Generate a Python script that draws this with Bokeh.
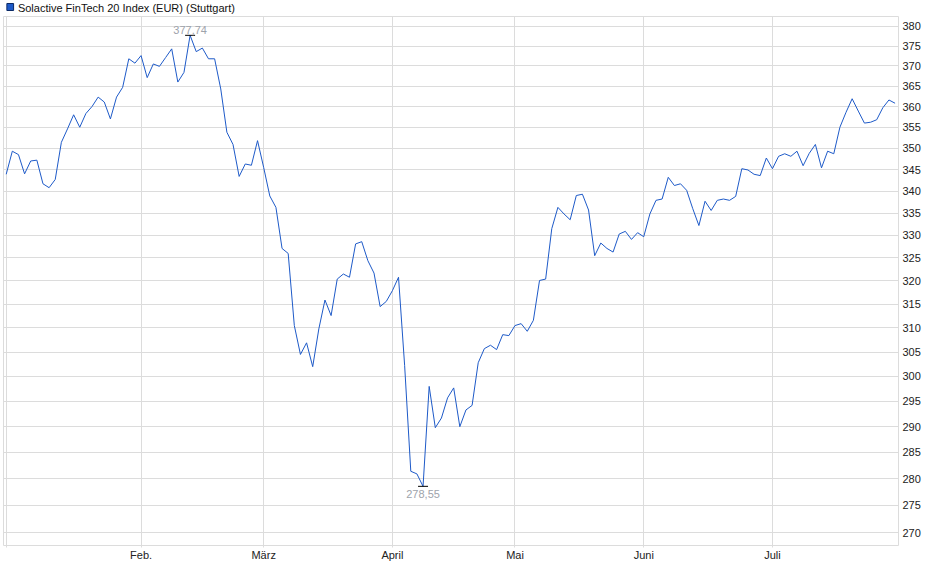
import numpy as np
from bokeh.plotting import figure
from bokeh.layouts import column
from bokeh.models import Range1d, FixedTicker, BasicTickFormatter
from bokeh.embed import file_html
from bokeh.resources import INLINE
from bokeh.core.properties import value

# ---------------- data ----------------
legend_label = "Solactive FinTech 20 Index (EUR) (Stuttgart)"
month_labels = ["", "Feb.", "März", "April", "Mai", "Juni", "Juli"]
month_start_index = [0, 22, 42, 63, 83, 104, 125]   # trading-day index of each month start
y_ticks = [270, 275, 280, 285, 290, 295, 300, 305, 310, 315, 320, 325, 330,
           335, 340, 345, 350, 355, 360, 365, 370, 375, 380]

close = [
    343.9, 349.3, 348.5, 344.0, 347.0, 347.2, 341.7, 340.8, 342.7, 351.4,
    354.6, 358.0, 355.0, 358.3, 360.0, 362.3, 361.1, 357.0, 362.3, 364.7,
    371.8, 370.7, 372.6, 367.1, 370.5, 369.9, 372.1, 374.3, 366.0, 368.4,
    377.74, 373.6, 374.5, 371.8, 371.8, 364.3, 353.8, 350.9, 343.4, 346.3,
    346.0, 351.8, 345.5, 338.9, 336.3, 327.1, 326.0, 310.5, 304.5, 306.9,
    302.0, 309.8, 315.9, 312.6, 320.4, 321.5, 320.8, 328.1, 328.6, 324.4,
    321.7, 314.5, 315.6, 317.9, 320.8, 302.2, 281.4, 280.9, 278.55, 298.0,
    289.8, 291.7, 295.7, 297.7, 290.0, 293.3, 294.2, 302.8, 305.7, 306.4,
    305.5, 308.6, 308.4, 310.5, 310.9, 309.3, 311.6, 320.1, 320.4, 331.5,
    336.3, 334.8, 333.5, 339.0, 339.3, 335.7, 325.5, 328.3, 327.1, 326.3,
    330.3, 330.9, 329.1, 330.6, 329.7, 334.8, 337.9, 338.2, 343.2, 341.3,
    341.7, 340.2, 336.0, 332.2, 337.7, 335.6, 337.9, 338.2, 337.9, 338.8,
    345.2, 344.9, 343.9, 343.6, 347.7, 345.2, 348.1, 348.7, 348.1, 349.3,
    345.9, 348.8, 350.9, 345.4, 349.3, 348.7, 355.0, 358.6, 361.9, 358.9,
    356.0, 356.2, 356.8, 359.7, 361.6, 360.8,
]
day_index = list(range(len(close)))

# ---------------- style ----------------
LINE = "#1e5ac8"
GRID = "#dcdcdc"
FONT = "Liberation Sans"
W = 932
HDR_H = 16

# header with legend swatch + label
hdr = figure(width=W, height=HDR_H, output_backend="svg", toolbar_location=None,
             x_range=Range1d(0, W), y_range=Range1d(HDR_H, 0),
             x_axis_location=None, y_axis_location=None, min_border=0)
hdr.grid.visible = False
hdr.outline_line_color = None
hdr.background_fill_color = "white"
hdr.border_fill_color = "white"
hdr.quad(left=[3.5], right=[10.5], top=[3], bottom=[10], fill_color=LINE,
         line_color="#0b2a66", line_width=1)
hdr.text([15], [7], text=[legend_label], text_baseline="middle",
         text_font=value(FONT), text_font_size="11px", text_color="#111111")

# main chart
p = figure(width=W, height=549, output_backend="svg", toolbar_location=None,
           y_axis_type="log", y_axis_location="right",
           x_range=Range1d(-0.44, 145.56), y_range=Range1d(267.64, 382.57),
           min_border_left=3, min_border_right=34, min_border_top=0,
           min_border_bottom=20)
p.background_fill_color = "white"
p.border_fill_color = "white"
p.outline_line_color = GRID

p.line(day_index, close, line_color=LINE, line_width=1)

# min / max markers
arr = np.array(close)
imax, imin = int(arr.argmax()), int(arr.argmin())
fmt = lambda v: f"{v:.2f}".replace(".", ",")
p.scatter([imax, imin], [close[imax], close[imin]], marker="dash", size=10,
          line_color="black", line_width=1)
p.text([imax], [close[imax]], text=[fmt(close[imax])], text_align="center",
       text_baseline="bottom", y_offset=-1, text_font=value(FONT),
       text_font_size="11px", text_color="#9ea3ab")
p.text([imin], [close[imin]], text=[fmt(close[imin])], text_align="center",
       text_baseline="top", y_offset=4, text_font=value(FONT),
       text_font_size="11px", text_color="#9ea3ab")

# axes
xt = FixedTicker(ticks=month_start_index)
p.xaxis.ticker = xt
p.xaxis.major_label_overrides = {i: l for i, l in zip(month_start_index, month_labels)}
p.xaxis.axis_line_color = None
p.xaxis.major_tick_in = 0
p.xaxis.major_tick_out = 2
p.xaxis.major_tick_line_color = GRID
p.xaxis.minor_tick_line_color = None
p.xaxis.major_label_standoff = 1
p.xaxis.major_label_text_font = FONT
p.xaxis.major_label_text_font_size = "11px"
p.xaxis.major_label_text_color = "#222222"
p.xgrid.ticker = xt
p.xgrid.grid_line_color = GRID

yt = FixedTicker(ticks=y_ticks)
p.yaxis.ticker = yt
p.yaxis.formatter = BasicTickFormatter(use_scientific=False)
p.yaxis.axis_line_color = None
p.yaxis.major_tick_in = 0
p.yaxis.major_tick_out = 0
p.yaxis.minor_tick_line_color = None
p.yaxis.major_label_standoff = 4
p.yaxis.major_label_text_font = FONT
p.yaxis.major_label_text_font_size = "11px"
p.yaxis.major_label_text_color = "#222222"
p.ygrid.ticker = yt
p.ygrid.grid_line_color = GRID

layout = column(hdr, p, spacing=0)
open("out.html", "w").write(file_html(layout, INLINE))
